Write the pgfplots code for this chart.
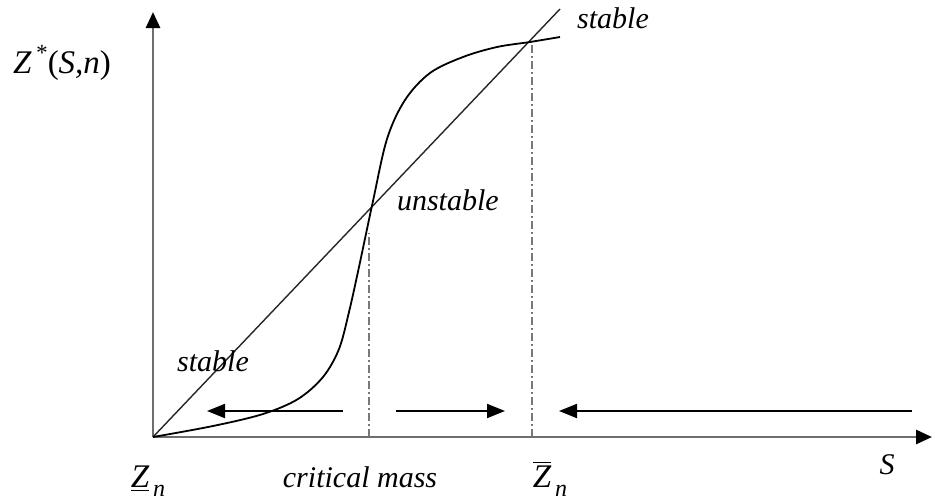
\documentclass[border=0pt]{standalone}
\usepackage{fontspec}
\setmainfont{Liberation Serif}
\usepackage{pgfplots}
\pgfplotsset{compat=1.18}
\usetikzlibrary{arrows.meta}
\definecolor{axgray}{HTML}{6E6E6E}
\definecolor{ddgray}{HTML}{777777}

\begin{document}
\begin{tikzpicture}
\begin{axis}[
  x=0.5pt,y=0.5pt,
  xmin=0,xmax=779,ymin=0,ymax=425,
  axis lines=left,
  axis line style={axgray,line width=1.4pt,-{Triangle[length=8pt,width=7pt,black]}},
  ticks=none,
  clip=false,
  font=\fontsize{15}{18}\selectfont\itshape
]
% line of equality
\addplot[black!85,line width=0.7pt] coordinates {(0,0) (407,428)};
% S-shaped response
\addplot[black,line width=0.9pt,smooth,tension=0.55] coordinates {
 (0,0) (60,11) (110,23) (145,38) (170,60) (186,88) (196,125) (206,170)
 (220,236) (234,298) (252,337) (277,364) (310,380) (344,390) (377,395)
 (407,400)};
% critical mass and upper equilibrium
\addplot[ddgray,line width=1pt,dash pattern=on 4pt off 1.5pt on 1pt off 1.5pt] coordinates {(216,0) (216,204)};
\addplot[ddgray,line width=1pt,dash pattern=on 4pt off 1.5pt on 1pt off 1.5pt] coordinates {(379,0) (379,395)};
% direction of motion
\addplot[black,line width=1pt,-{Triangle[length=9pt,width=7pt]}] coordinates {(190,26) (54,26)};
\addplot[black,line width=1pt,-{Triangle[length=9pt,width=7pt]}] coordinates {(243,26) (352,26)};
\addplot[black,line width=1pt,-{Triangle[length=9pt,width=7pt]}] coordinates {(759,26) (406,26)};
% labels
\node[font=\fontsize{16.5}{19}\selectfont\itshape] at (axis cs:-91,374) {Z\textsuperscript{\,*}\textup{(}S,n\textup{)}};
\node at (axis cs:460,419) {stable};
\node[anchor=west] at (axis cs:237,237) {unstable};
\node at (axis cs:60,76) {stable};
\node[font=\fontsize{16.5}{19}\selectfont\itshape] at (axis cs:-5,-44) {\underline{Z}\raisebox{-0.6ex}{\fontsize{12}{14}\selectfont\,n}};
\node at (axis cs:207,-40) {critical mass};
\node[font=\fontsize{16.5}{19}\selectfont\itshape] at (axis cs:397,-42) {$\overline{\mbox{\textit{Z}}}$\raisebox{-0.6ex}{\fontsize{12}{14}\selectfont\,n}};
\node at (axis cs:734,-28) {S};
% page extent
\path (axis cs:-153,-65) (axis cs:782,437);
\end{axis}
\end{tikzpicture}
\end{document}
